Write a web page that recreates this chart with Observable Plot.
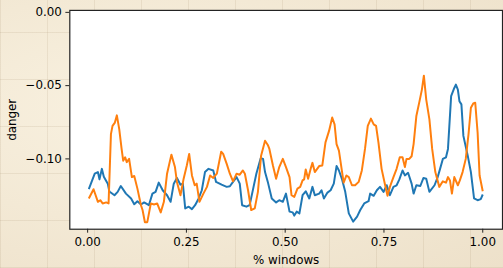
<!DOCTYPE html>
<html>
<head>
<meta charset="utf-8">
<script src="https://cdn.jsdelivr.net/npm/d3@7"></script>
<script src="https://cdn.jsdelivr.net/npm/@observablehq/plot@0.6"></script>
<style>
  html, body { margin: 0; padding: 0; width: 503px; height: 268px; overflow: hidden; }
  body {
    background-color: #f3e9d6;
    background-image:
      repeating-linear-gradient(0deg, rgba(150,125,90,0.13) 0px, rgba(150,125,90,0.13) 1px, transparent 1px, transparent 47px),
      repeating-linear-gradient(90deg, rgba(150,125,90,0.13) 0px, rgba(150,125,90,0.13) 1px, transparent 1px, transparent 47px),
      radial-gradient(ellipse at 30% 40%, rgba(255,250,235,0.5), rgba(220,200,165,0.25));
  }
  #chart svg { display: block; }
</style>
</head>
<body>
<div id="chart"></div>
<script>
const seriesNames = ["series A", "series B"];
const seriesColors = ["#1f77b4", "#ff7f0e"];
const xTicks = [0, 0.25, 0.5, 0.75, 1];
const yTicks = [0, -0.05, -0.10];

const blueX = [0.003,0.018,0.026,0.030,0.036,0.041,0.051,0.055,0.068,0.076,0.084,0.097,0.110,0.118,0.126,0.135,0.143,0.155,0.164,0.172,0.180,0.190,0.201,0.210,0.218,0.226,0.235,0.241,0.247,0.256,0.264,0.272,0.281,0.289,0.297,0.306,0.318,0.325,0.339,0.352,0.360,0.368,0.377,0.385,0.391,0.402,0.410,0.419,0.427,0.438,0.444,0.449,0.456,0.466,0.477,0.485,0.494,0.502,0.511,0.519,0.523,0.529,0.536,0.544,0.552,0.561,0.569,0.575,0.586,0.592,0.598,0.607,0.615,0.623,0.630,0.636,0.644,0.652,0.661,0.672,0.682,0.690,0.700,0.711,0.715,0.724,0.732,0.740,0.749,0.757,0.765,0.774,0.782,0.789,0.797,0.803,0.811,0.820,0.825,0.832,0.842,0.850,0.857,0.865,0.878,0.886,0.892,0.899,0.907,0.912,0.920,0.928,0.932,0.937,0.941,0.946,0.951,0.962,0.970,0.978,0.987,0.995,1.000];
const blueY = [-0.1207,-0.1101,-0.1090,-0.1140,-0.1068,-0.1122,-0.1169,-0.1223,-0.1248,-0.1225,-0.1185,-0.1237,-0.1270,-0.1309,-0.1289,-0.1311,-0.1297,-0.1316,-0.1237,-0.1225,-0.1162,-0.1214,-0.1248,-0.1293,-0.1169,-0.1130,-0.1176,-0.1169,-0.1338,-0.1326,-0.1343,-0.1316,-0.1270,-0.1214,-0.1090,-0.1068,-0.1079,-0.1157,-0.1176,-0.1191,-0.1187,-0.1157,-0.1124,-0.1169,-0.1316,-0.1326,-0.1316,-0.1203,-0.1101,-0.0995,-0.1000,-0.1090,-0.1157,-0.1270,-0.1297,-0.1282,-0.1293,-0.1237,-0.1360,-0.1365,-0.1387,-0.1360,-0.1372,-0.1248,-0.1221,-0.1270,-0.1191,-0.1248,-0.1237,-0.1214,-0.1270,-0.1230,-0.1214,-0.1169,-0.1049,-0.1079,-0.1140,-0.1225,-0.1372,-0.1428,-0.1394,-0.1349,-0.1304,-0.1289,-0.1237,-0.1252,-0.1214,-0.1191,-0.1225,-0.1180,-0.1248,-0.1191,-0.1180,-0.1140,-0.1079,-0.1113,-0.1095,-0.1169,-0.1237,-0.1180,-0.1185,-0.1130,-0.1135,-0.1225,-0.1180,-0.1124,-0.1068,-0.1000,-0.0989,-0.0932,-0.0572,-0.0516,-0.0493,-0.0527,-0.0606,-0.0628,-0.0843,-0.0978,-0.1090,-0.1270,-0.1282,-0.1275,-0.1243];

const orangeX = [0.003,0.015,0.026,0.032,0.038,0.047,0.053,0.059,0.063,0.069,0.074,0.080,0.086,0.090,0.095,0.099,0.105,0.112,0.118,0.126,0.135,0.139,0.145,0.151,0.160,0.168,0.176,0.185,0.193,0.201,0.212,0.221,0.226,0.235,0.243,0.251,0.257,0.264,0.271,0.276,0.283,0.293,0.302,0.310,0.318,0.327,0.338,0.343,0.352,0.360,0.368,0.377,0.385,0.393,0.398,0.406,0.414,0.423,0.431,0.439,0.449,0.456,0.460,0.469,0.477,0.485,0.494,0.502,0.511,0.516,0.523,0.531,0.538,0.544,0.548,0.552,0.558,0.565,0.569,0.575,0.586,0.594,0.602,0.611,0.619,0.625,0.630,0.636,0.644,0.648,0.655,0.661,0.669,0.677,0.686,0.694,0.702,0.709,0.717,0.724,0.730,0.736,0.744,0.753,0.759,0.765,0.774,0.782,0.790,0.797,0.803,0.807,0.814,0.820,0.825,0.832,0.840,0.846,0.851,0.857,0.865,0.872,0.880,0.890,0.899,0.907,0.912,0.917,0.922,0.928,0.937,0.942,0.949,0.957,0.964,0.970,0.976,0.981,0.987,0.992,1.000];
const orangeY = [-0.1270,-0.1207,-0.1293,-0.1282,-0.1304,-0.1297,-0.1304,-0.0831,-0.0775,-0.0752,-0.0703,-0.0797,-0.0932,-0.1012,-0.0989,-0.1022,-0.1000,-0.1124,-0.1117,-0.1203,-0.1316,-0.1349,-0.1432,-0.1432,-0.1304,-0.1311,-0.1304,-0.1365,-0.1293,-0.1101,-0.0971,-0.1056,-0.1157,-0.1248,-0.1135,-0.1045,-0.0966,-0.1113,-0.1180,-0.1169,-0.1293,-0.1237,-0.1191,-0.1113,-0.1130,-0.1101,-0.0951,-0.0966,-0.1034,-0.1101,-0.1153,-0.1101,-0.1108,-0.1079,-0.1101,-0.1214,-0.1349,-0.1338,-0.1225,-0.0978,-0.0876,-0.0905,-0.0932,-0.1045,-0.1135,-0.1056,-0.1000,-0.1056,-0.1124,-0.1248,-0.1259,-0.1203,-0.1191,-0.1147,-0.1140,-0.1072,-0.1135,-0.1063,-0.1027,-0.1090,-0.1049,-0.1045,-0.0887,-0.0809,-0.0718,-0.0764,-0.0899,-0.0944,-0.1090,-0.1162,-0.1113,-0.1124,-0.1180,-0.1180,-0.1157,-0.1079,-0.0932,-0.0775,-0.0725,-0.0764,-0.0775,-0.0887,-0.1068,-0.1180,-0.1252,-0.1191,-0.1124,-0.1068,-0.0989,-0.0989,-0.1056,-0.1000,-0.1000,-0.0982,-0.0899,-0.0707,-0.0606,-0.0527,-0.0432,-0.0595,-0.0730,-0.0932,-0.1090,-0.1191,-0.1153,-0.1162,-0.1124,-0.1147,-0.1237,-0.1124,-0.1180,-0.1147,-0.1090,-0.1000,-0.0831,-0.0651,-0.0622,-0.0617,-0.0820,-0.1113,-0.1221];

const rows = [
  ...blueX.map((x, i) => ({series: seriesNames[0], x, y: blueY[i]})),
  ...orangeX.map((x, i) => ({series: seriesNames[1], x, y: orangeY[i]}))
];

const fmt = d3.format(".2f");
const ink = "#222";

const chart = Plot.plot({
  width: 508,
  height: 268,
  marginLeft: 70,
  marginRight: 1,
  marginTop: 10,
  marginBottom: 37,
  style: {fontFamily: "DejaVu Sans", fontSize: "12px", background: "transparent", color: "#000", overflow: "visible"},
  x: {domain: [-0.0451, 1.05]},
  y: {domain: [-0.148, 0.00135]},
  color: {type: "ordinal", domain: seriesNames, range: seriesColors},
  marks: [
    Plot.frame({fill: "white", stroke: "none"}),
    Plot.line(rows, {x: "x", y: "y", z: "series", stroke: "series", strokeWidth: 2, strokeLinejoin: "round", strokeLinecap: "butt"}),
    Plot.frame({stroke: ink, strokeWidth: 1.2}),
    Plot.axisX({ticks: xTicks, tickFormat: fmt, tickSize: 4, tickPadding: 4, stroke: ink, strokeWidth: 1, label: null, fill: "#000"}),
    Plot.axisY({ticks: yTicks, tickFormat: fmt, tickSize: 4, tickPadding: 4, stroke: ink, strokeWidth: 1, label: null, fill: "#000"}),
    Plot.text(["% windows"], {frameAnchor: "bottom", dy: 31, lineAnchor: "middle", fill: "#000", fontSize: 12}),
    Plot.text(["danger"], {frameAnchor: "left", dx: -58, rotate: -90, textAnchor: "middle", lineAnchor: "middle", fill: "#000", fontSize: 12})
  ]
});
document.getElementById("chart").appendChild(chart);
</script>
</body>
</html>
